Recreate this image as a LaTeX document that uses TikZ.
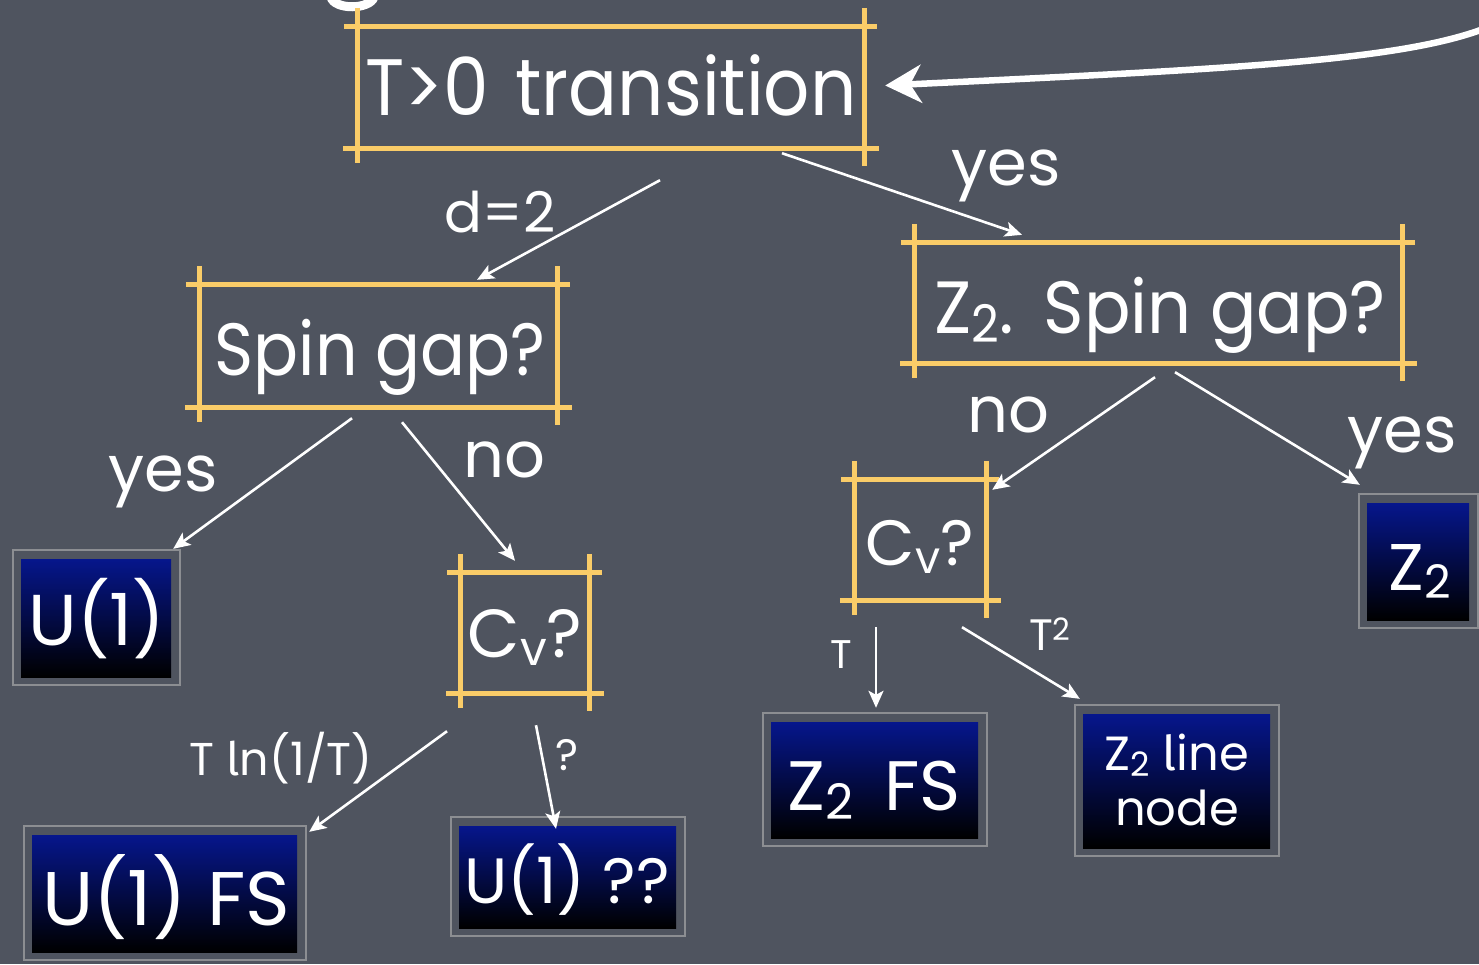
\documentclass[tikz,border=0pt]{standalone}
\usepackage{fontspec}
\setmainfont{Poppins}
\newfontfamily\tailfont{Fira Sans}
\usetikzlibrary{arrows.meta}

\definecolor{board}{RGB}{79,84,95}
\definecolor{chalkyellow}{RGB}{250,204,104}
\definecolor{deepblue}{RGB}{6,22,140}
\definecolor{framegray}{RGB}{140,142,146}

\newcommand\fs[1]{\fontsize{#1}{#1}\selectfont}
% horizontally condensed text
\newcommand\squeeze[2]{\scalebox{#1}[1]{#2}}
% large lowered index, as in Z2 and Cv
\newcommand\idx[1]{\raisebox{-0.13em}{\scalebox{0.7}{#1}}}
% an l with a tail, so it is not read as a capital I
\newcommand\tailell{{\tailfont l}}

% yellow sketch frame: four lines overshooting the corners
\newcommand\chalkframe[1]{%
  \draw[yline] ([xshift=-14pt]#1.north west) -- ([xshift=13pt]#1.north east);
  \draw[yline] ([xshift=-15pt]#1.south west) -- ([xshift=15pt]#1.south east);
  \draw[yline] ([yshift=19pt]#1.north west) -- ([yshift=-15pt]#1.south west);
  \draw[yline] ([yshift=19pt]#1.north east) -- ([yshift=-18pt]#1.south east);
}
% thin grey frame round a result box
\newcommand\grayframe[1]{%
  \draw[framegray, line width=1.6pt] ([xshift=-8pt,yshift=9pt]#1.north west)
    rectangle ([xshift=9pt,yshift=-8pt]#1.south east);
}

\tikzset{
  every node/.style={text=white, inner sep=0pt},
  txt/.style={anchor=base, align=center},
  yline/.style={chalkyellow, line width=5pt},
  result/.style={top color=deepblue, bottom color=black},
  arr/.style={white, line width=2.6pt, -{Stealth[length=17pt,width=15pt,inset=4pt]}},
  bigarr/.style={white, line width=6.5pt, -{Stealth[length=36pt,width=38pt,inset=11pt]}},
  lbl/.style={txt, font=\fs{64}},
}

\begin{document}
\begin{tikzpicture}[x=1pt, y=-1pt]
\fill[board] (0,0) rectangle (1479,964);
\useasboundingbox (0,0) rectangle (1479,964);

% fragment of chalk writing at the top edge
\draw[white, line width=9pt] (331,-3) .. controls (334,10) and (370,10) .. (374,-3);

% question frames
\node[minimum width=506pt, minimum height=121pt] (t0) at (611,87.5) {};
\node[minimum width=357pt, minimum height=122pt] (sg) at (378.5,346) {};
\node[minimum width=487pt, minimum height=120pt] (zsg) at (1158.5,303) {};
\node[minimum width=128pt, minimum height=120pt] (cvl) at (525,633) {};
\node[minimum width=131pt, minimum height=120pt] (cvr) at (920.5,540) {};
\chalkframe{t0}
\chalkframe{sg}
\chalkframe{zsg}
\chalkframe{cvl}
\chalkframe{cvr}

% question texts
\node[txt, font=\fs{80}] (t0txt) at (611,115) {\squeeze{0.905}{T>0\hspace{0.1em} transition}};
\node[txt, font=\fs{74}] (sgtxt) at (380,375) {\squeeze{0.9}{Spin gap?}};
\node[txt, font=\fs{74}] (zsgtxt) at (1160,333) {\squeeze{0.93}{Z\idx{2}.\hspace{0.08em} Spin gap?}};
\node[txt, font=\fs{68}] (cvltxt) at (525,657) {C\idx{v}?};
\node[txt, font=\fs{64}] (cvrtxt) at (920,565) {C\idx{v}?};

% result boxes
\node[result, minimum width=150pt, minimum height=118pt] (u1) at (96,618) {};
\node[result, minimum width=102pt, minimum height=117pt] (z2) at (1418,561.5) {};
\node[result, minimum width=207pt, minimum height=116pt] (z2fs) at (874.5,780) {};
\node[result, minimum width=187pt, minimum height=134pt] (zline) at (1176.5,781) {};
\node[result, minimum width=265pt, minimum height=117pt] (u1fs) at (164.5,893.5) {};
\node[result, minimum width=217pt, minimum height=102pt] (u1q) at (567.5,877) {};
\grayframe{u1}
\grayframe{z2}
\grayframe{z2fs}
\grayframe{zline}
\grayframe{u1fs}
\grayframe{u1q}

% result texts
\node[txt, font=\fs{72}] (u1txt) at (97,645) {U(1)};
\node[txt, font=\fs{66}] (z2txt) at (1420,590) {Z\idx{2}};
\node[txt, font=\fs{70}] (z2fstxt) at (874,810) {Z\idx{2}\hspace{0.18em} FS};
\node[txt, font=\fs{48}] (zlinetxt) at (1177,770) {Z\idx{2} \tailell ine};
\node[txt, font=\fs{48}] (znodetxt) at (1177,825) {node};
\node[txt, font=\fs{76}] (u1fstxt) at (166,925) {U(1) FS};
\node[txt, font=\fs{64}] (u1qtxt) at (567,903) {U(1) ??};

% incoming arrow
\coordinate (from) at (1500,22);
\draw[bigarr] (from) .. controls (1420,60) and (1250,68) .. ([xshift=21pt,yshift=2pt]t0.east);

% branches
\draw[arr] ([shift={(49,32)}]t0.south) -- ([shift={(98.5,-5)}]sg.north);
\draw[arr] ([shift={(171,5)}]t0.south) -- ([shift={(-136.5,-8)}]zsg.north);
\draw[arr] ([shift={(-26.5,11)}]sg.south) -- ([shift={(2,-10)}]u1.north east);
\draw[arr] ([shift={(23.5,15)}]sg.south) -- ([shift={(-10,-12)}]cvl.north);
\draw[arr] ([shift={(-3.5,14)}]zsg.south) -- ([shift={(6,10)}]cvr.north east);
\draw[arr] ([shift={(16.5,9)}]zsg.south) -- ([shift={(-7,-18)}]z2.north west);
\draw[arr] ([shift={(-44.5,27)}]cvr.south) -- ([shift={(1.5,-14)}]z2fs.north);
\draw[arr] ([shift={(41.5,27)}]cvr.south) -- ([shift={(-3,-15)}]zline.north west);
\draw[arr] ([shift={(-78,38)}]cvl.south) -- ([shift={(12,-3)}]u1fs.north east);
\draw[arr] ([shift={(11,32)}]cvl.south) -- ([shift={(-11.5,3)}]u1q.north);

% branch labels
\node[txt, font=\fs{56}] (ld2) at (500,232) {d=2};
\node[lbl] (lyes1) at (1006,185) {yes};
\node[lbl] (lyes2) at (163,491) {yes};
\node[lbl] (lno1) at (504,477) {no};
\node[lbl] (lno2) at (1008,432) {no};
\node[lbl] (lyes3) at (1402,452) {yes};
\node[txt, font=\fs{40}] (lt) at (841,668) {T};
\node[txt, font=\fs{44}] (lt2) at (1050,650) {T\textsuperscript{2}};
\node[txt, font=\fs{46}] (ltln) at (281,775) {T \tailell n(1/T)};
\node[txt, font=\fs{44}] (lq) at (567,770) {?};
\end{tikzpicture}
\end{document}
